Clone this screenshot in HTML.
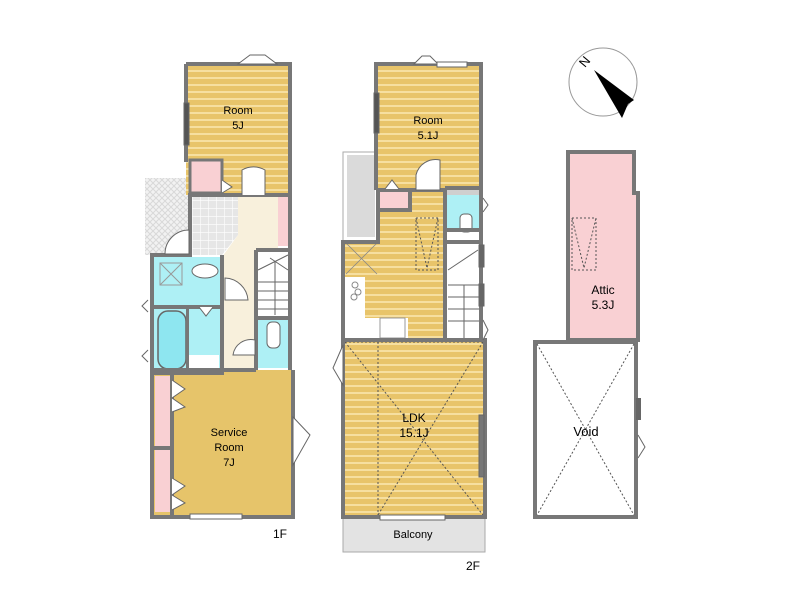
<!DOCTYPE html>
<html><head><meta charset="utf-8"><style>
html,body{margin:0;padding:0;background:#fff;}
svg{display:block;font-family:"Liberation Sans",sans-serif;}
</style></head><body>
<svg width="800" height="600" viewBox="0 0 800 600" xmlns="http://www.w3.org/2000/svg">
<defs>
<pattern id="st" width="8" height="7" patternUnits="userSpaceOnUse">
<rect width="8" height="7" fill="#e8c46a"/><rect y="0" width="8" height="2" fill="#f6dfa0"/>
</pattern>
<pattern id="tile" width="8" height="8" patternUnits="userSpaceOnUse">
<rect width="8" height="8" fill="#e6e6e6"/><path d="M0 0H8M0 0V8" stroke="#fff" stroke-width="1.2"/>
</pattern>
<pattern id="hatch" width="6" height="6" patternUnits="userSpaceOnUse">
<rect width="6" height="6" fill="#f2f2f2"/><path d="M0 0L6 6M6 0L0 6" stroke="#d8d8d8" stroke-width="1"/>
</pattern>
</defs>

<!-- ===== 1F ===== -->
<rect x="145" y="178" width="45" height="77" fill="url(#hatch)"/>
<rect x="186" y="64" width="104" height="131" fill="url(#st)"/>
<rect x="190" y="160" width="32" height="33" fill="#f9d0d3" stroke="#777" stroke-width="3"/>
<polygon points="190,196 238,196 238,235 222,255 190,255" fill="url(#tile)"/>
<polygon points="238,196 278,196 278,255 258,255 258,370 222,370 222,257 238,235" fill="#f8f0dc"/>
<rect x="278" y="196" width="12" height="50" fill="#f9d0d3"/>
<rect x="152" y="257" width="70" height="50" fill="#aef0f5"/>
<rect x="152" y="307" width="68" height="66" fill="#aef0f5"/>
<rect x="189" y="355" width="30" height="17" fill="#fff"/>
<rect x="158" y="311" width="28" height="58" rx="10" fill="#8ee6f0" stroke="#666" stroke-width="1.5"/>
<rect x="186" y="307" width="3" height="66" fill="#777"/>
<ellipse cx="205" cy="271" rx="13" ry="7" fill="#fff" stroke="#666"/>
<path d="M160 263L182 285M182 263L160 285" stroke="#999"/><rect x="160" y="263" width="22" height="22" fill="none" stroke="#999"/>
<rect x="256" y="250" width="34" height="68" fill="#fff"/>
<g stroke="#666" stroke-width="1"><path d="M258 282H288M258 291H288M258 300H288M258 309H288"/><path d="M258 270L288 255M270 258L288 270"/><path d="M275 262V315"/></g>
<rect x="258" y="318" width="30" height="50" fill="#aef0f5"/>
<rect x="267" y="322" width="13" height="26" rx="5" fill="#fff" stroke="#666"/>
<rect x="152" y="370" width="141" height="147" fill="#e6c46a"/>
<rect x="155" y="376" width="15" height="71" fill="#f9d0d3"/>
<rect x="155" y="449" width="15" height="63" fill="#f9d0d3"/>
<g fill="none" stroke="#777" stroke-width="4">
<path d="M186 64H290V195M186 64V162"/>
<path d="M150 255H190V195H290V370"/>
<path d="M152 255V517H293V370"/>
<path d="M222 255V373H152M152 307H222M152 370H256"/>
<path d="M256 250V370M256 318H290M256 250H290"/>
<path d="M172 372V517M152 448H172"/>
</g>
<g fill="#fff" stroke="#666" stroke-width="1">
<path d="M238 64L250 55H265L277 64Z"/>
<rect x="184" y="103" width="5" height="42" fill="#555"/>
<path d="M242 195V170A23 23 0 0 1 265 170V195" />
<path d="M189 254H165A24 24 0 0 1 189 230Z"/>
<path d="M225 278A24 24 0 0 1 248 300H225Z"/>
<path d="M148 300L142 306L148 312M148 350L142 356L148 362"/>
<path d="M293 417L310 435L293 465Z"/>
<path d="M172 380L185 389L172 398L185 407L172 412"/>
<path d="M172 478L185 486L172 495L185 503L172 510"/>
<rect x="190" y="514" width="52" height="5"/>
<path d="M233 355A18 18 0 0 1 255 340V355Z"/>
<path d="M199 307L206 316L213 307"/>
<path d="M222 180L232 187L222 193"/>
</g>
<text x="238" y="114" font-size="11" text-anchor="middle">Room</text>
<text x="238" y="129" font-size="11" text-anchor="middle">5J</text>
<text x="229" y="436" font-size="11" text-anchor="middle">Service</text>
<text x="229" y="451" font-size="11" text-anchor="middle">Room</text>
<text x="229" y="466" font-size="11" text-anchor="middle">7J</text>
<text x="280" y="538" font-size="12" text-anchor="middle">1F</text>

<!-- ===== 2F ===== -->
<rect x="343" y="152" width="35" height="90" fill="#fff" stroke="#aaa"/>
<rect x="347" y="155" width="28" height="82" fill="#dadada"/>
<rect x="376" y="64" width="105" height="126" fill="url(#st)"/>
<polygon points="378,190 445,190 445,340 343,340 343,242 378,242" fill="url(#st)"/>
<rect x="380" y="190" width="30" height="18" fill="#f9d0d3"/>
<rect x="345" y="242" width="33" height="33" fill="url(#st)"/>
<path d="M346 243L377 274M377 243L346 274" stroke="#888" stroke-width="0.8"/>
<rect x="345" y="277" width="20" height="63" fill="#fff"/>
<rect x="345" y="318" width="63" height="22" fill="#fff"/>
<rect x="380" y="318" width="25" height="20" fill="#fff" stroke="#999"/>
<g fill="none" stroke="#888"><circle cx="355" cy="285" r="3"/><circle cx="358" cy="292" r="3"/><circle cx="354" cy="297" r="3"/></g>
<rect x="447" y="190" width="34" height="40" fill="#aef0f5"/>
<rect x="447" y="190" width="34" height="5" fill="#cfcfcf"/>
<rect x="460" y="214" width="12" height="18" rx="4" fill="#fff" stroke="#666"/>
<rect x="447" y="242" width="34" height="98" fill="#fff"/>
<g stroke="#666"><path d="M448 285H481M448 297H481M448 309H481M448 321H481M464 285V340M448 270L478 250"/></g>
<path d="M416 218H438V270H416Z M416 218L427 268L438 218" fill="none" stroke="#555" stroke-dasharray="2,2"/>
<rect x="343" y="340" width="142" height="177" fill="url(#st)"/>
<path d="M378 342V515M345 342L483 515M483 342L378 515M345 342H483" fill="none" stroke="#555" stroke-dasharray="2,2"/>
<rect x="343" y="517" width="142" height="35" fill="#e3e3e3" stroke="#aaa"/>
<g fill="none" stroke="#777" stroke-width="4">
<path d="M376 190V64H481V190"/>
<path d="M378 190H445V340M378 190V242H343V517H485V340H445M343 340H445"/>
<path d="M378 210H410V190M445 188H481V340"/>
<path d="M447 242H481M447 230H481"/>
</g>
<g fill="#fff" stroke="#666" stroke-width="1">
<path d="M414 64L422 56H430L438 64Z"/><rect x="437" y="62" width="30" height="5"/>
<rect x="374" y="93" width="5" height="40" fill="#555"/>
<path d="M416 190V175A20 20 0 0 1 440 160V190Z"/>
<path d="M385 189L392 180L399 189"/>
<path d="M343 345L333 368L343 385Z"/>
<path d="M483 198L488 205L483 212M483 320L488 330L483 340"/>
<rect x="479" y="245" width="5" height="22" fill="#666"/><rect x="479" y="284" width="5" height="22" fill="#666"/>
<rect x="479" y="415" width="5" height="62" fill="#777"/>
<rect x="380" y="515" width="65" height="5"/>
</g>
<text x="428" y="124" font-size="11" text-anchor="middle">Room</text>
<text x="428" y="139" font-size="11" text-anchor="middle">5.1J</text>
<text x="414" y="422" font-size="12" text-anchor="middle">LDK</text>
<text x="414" y="437" font-size="12" text-anchor="middle">15.1J</text>
<text x="413" y="538" font-size="11" text-anchor="middle">Balcony</text>
<text x="473" y="570" font-size="12" text-anchor="middle">2F</text>

<!-- ===== Attic / Void ===== -->
<polygon points="568,152 634,152 634,193 638,193 638,340 568,340" fill="#f9d0d3" stroke="#777" stroke-width="4"/>
<path d="M572 218H596V270H572Z M572 218L584 268L596 218" fill="none" stroke="#555" stroke-dasharray="2,2"/>
<rect x="535" y="342" width="101" height="175" fill="#fff" stroke="#777" stroke-width="4"/>
<path d="M537 344L634 515M634 344L537 515" stroke="#555" stroke-dasharray="2,2"/>
<rect x="636" y="398" width="5" height="22" fill="#666"/>
<path d="M638 435L645 447L638 458" fill="#fff" stroke="#666"/>
<text x="603" y="294" font-size="12" text-anchor="middle">Attic</text>
<text x="603" y="309" font-size="12" text-anchor="middle">5.3J</text>
<text x="586" y="436" font-size="13" text-anchor="middle">Void</text>

<circle cx="603" cy="82" r="34" fill="#fff" stroke="#999"/>
<polygon points="594,70 634,100 628,104 622,118" fill="#000"/>
<text x="585" y="66" font-size="13" transform="rotate(-50 585 62)" text-anchor="middle">N</text>
</svg>
</body></html>
